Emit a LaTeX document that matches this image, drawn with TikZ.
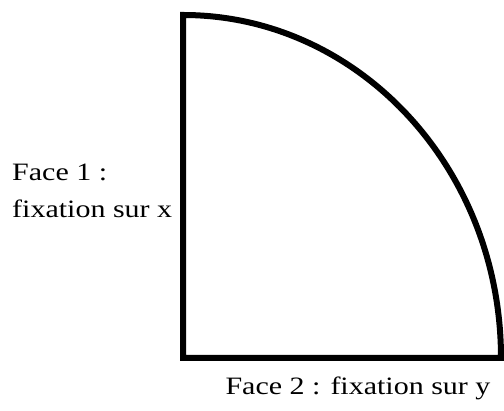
\documentclass[tikz,border=0pt]{standalone}
\usepackage{fontspec}
\setmainfont{Liberation Serif}
\usetikzlibrary{positioning}

\begin{document}
\begin{tikzpicture}[
    x=1pt, y=1pt,
    facelabel/.style={font=\fontsize{25}{37}\selectfont, inner sep=0pt, xscale=1.2, transform shape},
    contour/.style={line width=6pt, line join=miter},
]
\useasboundingbox (0,0) rectangle (504,411);
\coordinate (corner) at (183,53);
\coordinate (top) at (183,396);
\coordinate (edge) at (504,53);

% quarter piece
\draw[contour] (edge) -- (corner) -- (top) arc[start angle=90, end angle=0, x radius=318, y radius=343];

% boundary conditions
\node[facelabel, align=left, anchor=base west] (face1) at (12,193) {Face 1 :\\fixation sur x};
\node[facelabel, anchor=base] (face2) at (358,16) {Face 2 : fixation sur y};
\end{tikzpicture}
\end{document}
